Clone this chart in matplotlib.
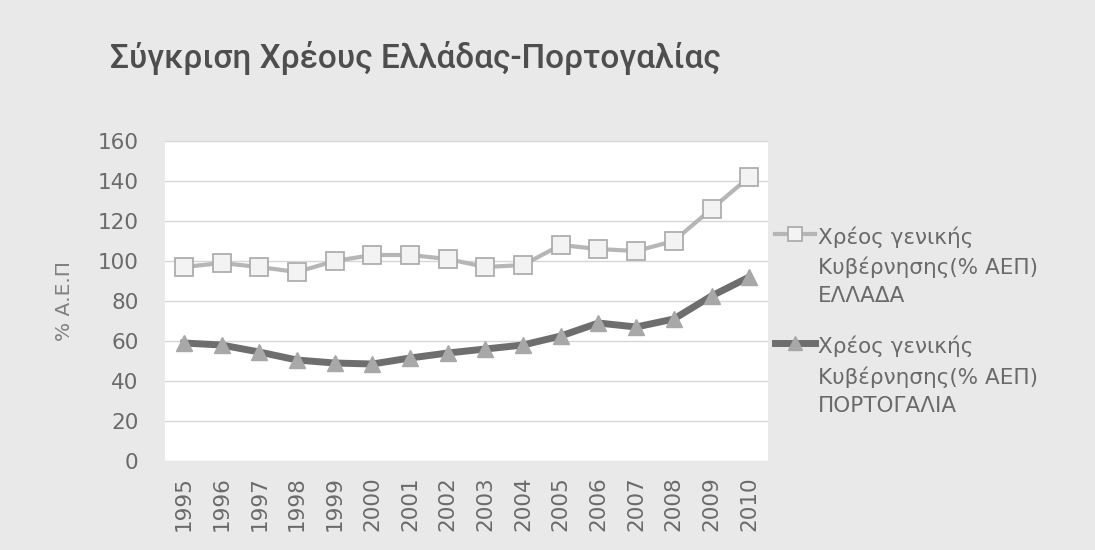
import matplotlib.pyplot as plt
import numpy as np

# Public debt as % of GDP, Greece vs Portugal
years = ['1995', '1996', '1997', '1998', '1999', '2000', '2001', '2002',
         '2003', '2004', '2005', '2006', '2007', '2008', '2009', '2010']
greece = [97, 99, 97, 94.5, 100, 103, 103, 101, 97, 98, 108, 106, 105, 110, 126, 142]
portugal = [59, 58, 54.5, 50.5, 49, 48.5, 51.5, 54, 56, 58, 62.5, 69, 67, 71, 82.5, 92]

label_gr = 'Χρέος γενικής\nΚυβέρνησης(% ΑΕΠ)\nΕΛΛΑΔΑ'
label_pt = 'Χρέος γενικής\nΚυβέρνησης(% ΑΕΠ)\nΠΟΡΤΟΓΑΛΙΑ'
title = 'Σύγκριση Χρέους Ελλάδας-Πορτογαλίας'
ylabel = '% Α.Ε.Π'

plt.rcParams['font.family'] = ['DejaVu Sans']
txt_color = '#6a6a6a'

fig = plt.figure(figsize=(10.95, 5.5), dpi=100)
fig.patch.set_facecolor('#e9e9e9')
ax = fig.add_axes([0.1507, 0.1618, 0.5507, 0.5818])
ax.set_facecolor('white')

x = np.arange(len(years))
ax.plot(x, greece, color='#b6b6b6', lw=3, marker='s', ms=12.5,
        mfc='#f3f3f3', mec='#a8a8a8', mew=1.2, label=label_gr, zorder=3)
ax.plot(x, portugal, color='#6e6e6e', lw=5, marker='^', ms=12,
        mfc='#a8a8a8', mec='#a8a8a8', label=label_pt, zorder=3)

ax.set_xlim(-0.5, len(years) - 0.5)
ax.set_ylim(0, 160)
ax.set_yticks(range(0, 161, 20))
ax.set_xticks(x)
ax.set_xticklabels(years, rotation=90, fontsize=15.5, color=txt_color)
ax.tick_params(axis='y', labelsize=15.5, colors=txt_color, length=0, pad=19)
ax.tick_params(axis='x', length=0, pad=11)
ax.grid(axis='y', color='#d6d6d6', lw=1)
ax.set_axisbelow(True)
for s in ax.spines.values():
    s.set_visible(False)

ax.set_ylabel(ylabel, fontsize=14.5, color='#808080', labelpad=17)

fig.text(0.1, 1 - 68 / 550, title, fontsize=24, color='#4e4e4e', weight='medium',
         family=['Roboto', 'DejaVu Sans'], ha='left', va='baseline')

leg = fig.legend(loc='upper left', bbox_to_anchor=(0.7078, 0.589), frameon=False,
                 fontsize=15.5, labelcolor=txt_color, handlelength=1.86,
                 handletextpad=0.15, labelspacing=1.4, markerscale=0.8,
                 borderpad=0, borderaxespad=0)
for t in leg.get_texts():
    t.set_linespacing(1.5)
# put each legend handle next to the first line of its label
for col in leg._legend_handle_box.get_children():
    for row in col.get_children():
        row.align = 'top'

fig.savefig('out.png', dpi=100, facecolor=fig.get_facecolor())
